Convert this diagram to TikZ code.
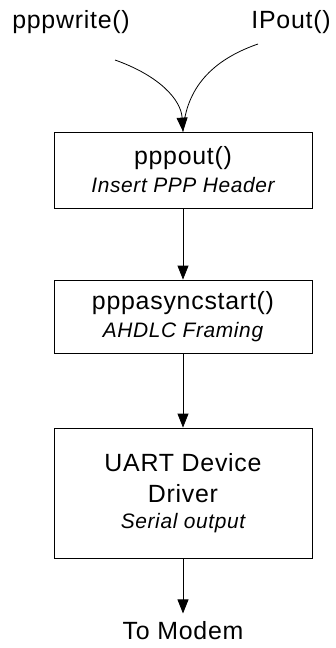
\documentclass[tikz,border=0pt]{standalone}
\usepackage{fontspec}
\setmainfont{Liberation Sans}[LetterSpace=3]
\usetikzlibrary{arrows.meta}
\begin{document}
\begin{tikzpicture}[x=1bp,y=-1bp,
  line width=0.8bp,
  lbl/.style={inner sep=0pt,font=\fontsize{25}{30}\selectfont},
  procbox/.style={draw,minimum width=258bp,align=center,inner sep=0pt,font=\fontsize{25}{30}\selectfont},
  flow/.style={-{Triangle[width=11bp,length=14bp]}}]
\useasboundingbox (0,0) rectangle (335,648);
\node[lbl] (pw) at (71,22) {pppwrite()};
\node[lbl] (ip) at (291,22) {IPout()};
\coordinate (pws) at (115,60);
\coordinate (ips) at (258,44);
\node[procbox,minimum height=76bp] (b1) at (183,170) {pppout()\\[-2bp]{\fontsize{21}{26}\selectfont\itshape Insert PPP Header}};
\node[procbox,minimum height=73bp] (b2) at (183,316.5) {pppasyncstart()\\[-2bp]{\fontsize{21}{26}\selectfont\itshape AHDLC Framing}};
\node[procbox,minimum height=130bp] (b3) at (183,493) {UART Device\\[1bp]Driver\\[-4bp]{\fontsize{21}{26}\selectfont\itshape Serial output}};
\node[lbl] (tm) at (183,631) {To Modem};
\draw (ips) .. controls (212,60) and (186,88) .. (b1.north);
\draw[flow] (pws) .. controls (160,76) and (181,100) .. (b1.north);
\draw[flow] (b1.south) -- (b2.north);
\draw[flow] (b2.south) -- (b3.north);
\draw[flow,shorten >=8bp] (b3.south) -- (tm.north);
\end{tikzpicture}
\end{document}
